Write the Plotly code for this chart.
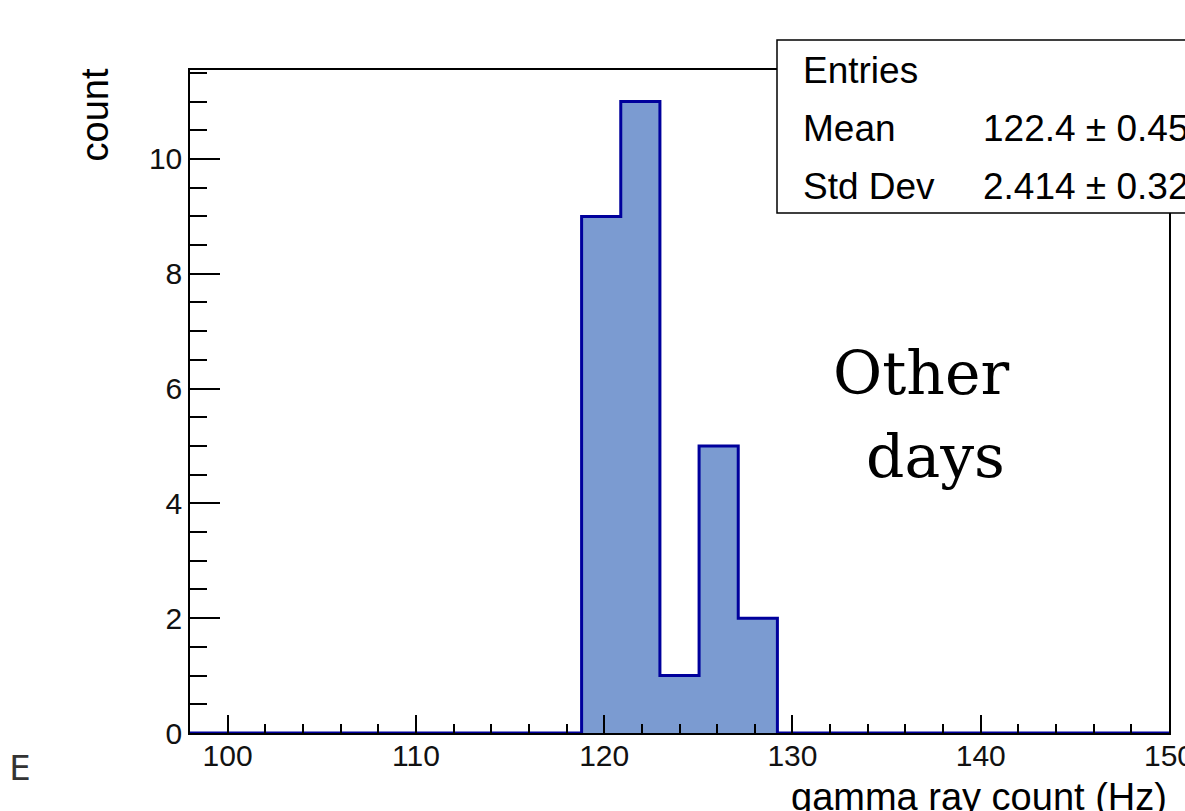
import numpy as np
import plotly.graph_objects as go

# ---- data ----
bin_low = 98.0
bin_high = 150.0
counts = [0, 0, 0, 0, 0, 0, 0, 0, 0, 0,
          9, 11, 1, 5, 2,
          0, 0, 0, 0, 0, 0, 0, 0, 0, 0]
stat_labels = ["Entries", "Mean", "Std Dev"]
stat_values = ["28", "122.4 \u00b1 0.45", "2.414 \u00b1 0.32"]
x_title = "gamma ray count (Hz)"
y_title = "count"
note_lines = ["Other", "days"]

edges = np.linspace(bin_low, bin_high, len(counts) + 1)
ys = list(counts) + [counts[-1]]

W, H = 1185, 811
L, R, T, B = 190, 16, 70, 78
pw, ph = W - L - R, H - T - B


def px(x):
    return (x - L) / pw


def py(y):
    return (H - B - y) / ph


fig = go.Figure()
fig.add_trace(go.Scatter(
    x=edges, y=ys, mode="lines", line=dict(shape="hv", color="#00009c", width=3),
    fill="tozeroy", fillcolor="#7b9bd1", cliponaxis=False, showlegend=False,
    hoverinfo="skip",
))

font = "Liberation Sans, Arial, sans-serif"
fig.update_layout(
    width=W, height=H, margin=dict(l=L, r=R, t=T, b=B, pad=0, autoexpand=False),
    paper_bgcolor="white", plot_bgcolor="white", showlegend=False,
    font=dict(family=font, color="black"),
    xaxis=dict(range=[bin_low, bin_high], tickmode="linear", tick0=100, dtick=10,
               ticks="inside", ticklen=18, tickwidth=1.5, tickcolor="black",
               minor=dict(ticks="inside", ticklen=9, tickwidth=1.5, tickcolor="black", dtick=2, tick0=0),
               showgrid=False, zeroline=False, showline=True, linecolor="black", linewidth=1.5,
               mirror=True, layer="above traces", tickfont=dict(size=30, color="#111"),
               ticklabelstandoff=-5, ticklabeloverflow="allow", automargin=False),
    yaxis=dict(range=[0, 11.55], tickmode="linear", tick0=0, dtick=2,
               ticks="inside", ticklen=30, tickwidth=1.5, tickcolor="black",
               minor=dict(ticks="inside", ticklen=17, tickwidth=1.5, tickcolor="black", dtick=0.5, tick0=0),
               showgrid=False, zeroline=False, showline=True, linecolor="black", linewidth=1.5,
               mirror=True, layer="above traces", tickfont=dict(size=30, color="#111"),
               ticklabelstandoff=0, automargin=False),
)

# stats box
fig.add_shape(type="rect", xref="paper", yref="paper",
              x0=px(777), x1=px(1220), y0=py(213), y1=py(40),
              line=dict(color="black", width=1.5), fillcolor="white", layer="above")
rows_y = [70, 128, 186]
for lab, val, yy in zip(stat_labels, stat_values, rows_y):
    fig.add_annotation(xref="paper", yref="paper", x=px(801), y=py(yy), text=lab,
                       showarrow=False, xanchor="left", yanchor="middle",
                       font=dict(size=37, family=font, color="black"))
    if lab != "Entries":
        fig.add_annotation(xref="paper", yref="paper", x=px(981), y=py(yy), text=val,
                           showarrow=False, xanchor="left", yanchor="middle",
                           font=dict(size=37, family=font, color="black"))

# axis titles
fig.add_annotation(xref="paper", yref="paper", x=1.0, y=py(797), text=x_title,
                   showarrow=False, xanchor="right", yanchor="middle",
                   font=dict(size=38, family=font, color="black"))
fig.add_annotation(xref="paper", yref="paper", x=px(94), y=py(67), text=y_title,
                   textangle=-90, showarrow=False, xanchor="center", yanchor="top",
                   font=dict(size=38, family=font, color="black"))

# overlay text
fig.add_annotation(xref="paper", yref="paper", x=px(921), y=py(373), text=note_lines[0],
                   showarrow=False, xanchor="center", yanchor="middle",
                   font=dict(size=60, family="DejaVu Serif, serif", color="black"))
fig.add_annotation(xref="paper", yref="paper", x=px(935), y=py(456), text=note_lines[1],
                   showarrow=False, xanchor="center", yanchor="middle",
                   font=dict(size=60, family="DejaVu Serif, serif", color="black"))

# cropped fragment at bottom-left
fig.add_annotation(xref="paper", yref="paper", x=px(33), y=py(768), text="P E",
                   showarrow=False, xanchor="right", yanchor="middle",
                   font=dict(size=34, family="DejaVu Sans, sans-serif", color="#333"))

fig.write_html("out.html", config={"displayModeBar": False},
               post_script="document.body.style.margin='0';document.body.style.overflow='hidden';")
